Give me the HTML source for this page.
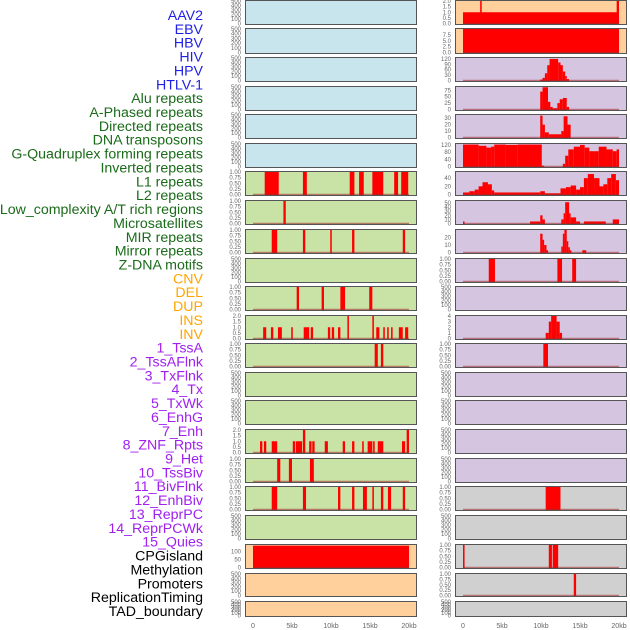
<!DOCTYPE html>
<html><head><meta charset="utf-8"><style>
body{margin:0;background:#fff;}
svg{display:block;font-family:"Liberation Sans",sans-serif;}
</style></head><body>
<svg id="chart" width="630" height="630" viewBox="0 0 630 630"></svg>
<script>
// ---- data ----
const labelNames=["AAV2","EBV","HBV","HIV","HPV","HTLV-1","Alu repeats","A-Phased repeats","Directed repeats","DNA transposons","G-Quadruplex forming repeats","Inverted repeats","L1 repeats","L2 repeats","Low_complexity A/T rich regions","Microsatellites","MIR repeats","Mirror repeats","Z-DNA motifs","CNV","DEL","DUP","INS","INV","1_TssA","2_TssAFlnk","3_TxFlnk","4_Tx","5_TxWk","6_EnhG","7_Enh","8_ZNF_Rpts","9_Het","10_TssBiv","11_BivFlnk","12_EnhBiv","13_ReprPC","14_ReprPCWk","15_Quies","CPGisland","Methylation","Promoters","ReplicationTiming","TAD_boundary"];
const labelGroups=[6,13,5,15,4];
const groupColors=["#1f1fe6","#1a6b1a","#ffa500","#a020f0","#000000"];
const xTickValues=[0,5,10,15,20];
const xTickLabels=["0","5kb","10kb","15kb","20kb"];
const rowTops=[0,28,57,86,114,143,171,200,229,258,286,315,343,372,400,429,458,486,515,544,573,601];
const rowBottoms=[25,54,82,111,139,168,196,225,254,283,311,340,368,397,425,454,483,511,540,569,597,617];
const E=[0,100,200,300,400,500], B=[0,0.25,0.5,0.75,1], T2=[0,0.5,1,1.5,2];
const BL="#c8e4ec",GR="#c9e2a6",OR="#ffd09c",LV="#d5c5e1",GY="#d0d0d0";
// left column: [bg, ymax, ticks, tickLabels, segments [startKb,endKb,value]]
const leftPanels=[
[BL,500,E,null,[]],[BL,500,E,null,[]],[BL,500,E,null,[]],[BL,500,E,null,[]],[BL,500,E,null,[]],[BL,500,E,null,[]],
[GR,1,B,"f2",[[1.5,3.3,1],[6.4,6.9,1],[12.4,13.0,1],[13.6,14.2,1],[15.3,16.7,1],[18.1,18.6,1],[19.0,19.9,1]]],
[GR,1,B,"f2",[[3.9,4.2,1]]],
[GR,1,B,"f2",[[2.4,3.1,1],[6.4,6.7,1],[9.9,10.1,1],[12.7,13.0,1],[19.2,19.5,1]]],
[GR,500,E,null,[]],
[GR,1,B,"f2",[[5.6,5.9,1],[8.8,9.1,1],[11.2,11.8,1],[14.9,15.3,1]]],
[GR,2,T2,"f1",[[1.3,1.7,1],[2.3,2.6,1],[3.2,3.7,1],[4.9,5.1,1],[6.5,7.2,1],[7.4,7.7,1],[9.6,9.9,1],[10.1,10.4,1],[10.9,11.2,1],[12.1,12.3,2],[15.3,15.5,2],[15.8,16.2,1],[16.7,16.9,1],[17.2,17.4,1],[17.7,17.9,1],[18.7,19.2,1],[19.5,19.9,1]]],
[GR,1,B,"f2",[[15.6,16.0,1],[16.4,16.7,1]]],
[GR,500,E,null,[]],[GR,500,E,null,[]],
[GR,2,T2,"f1",[[0.9,1.2,1],[1.4,1.7,1],[2.4,3.1,1],[5.1,5.4,1],[5.5,6.3,1],[6.4,6.7,2],[7.2,7.5,1],[7.6,7.9,1],[9.2,9.6,1],[11.5,11.8,1],[12.7,13.0,1],[14.0,14.2,1],[14.7,15.3,1],[15.4,15.6,1],[16.0,16.7,1],[19.1,19.5,1],[19.7,20.0,2]]],
[GR,1,B,"f2",[[3.1,3.5,1],[4.6,5.0,1],[7.3,7.8,1]]],
[GR,1,B,"f2",[[2.4,3.1,1],[6.4,6.8,1],[10.9,11.2,1],[12.7,13.0,1],[14.1,14.6,1],[15.3,15.5,1],[16.4,16.7,1],[17.3,17.7,1],[19.2,19.5,1]]],
[GR,500,E,null,[]],
[OR,140,[0,50,100],null,[[0,20,136]]],
[OR,500,E,null,[]],[OR,500,E,null,[]]
];
const rightPanels=[
[OR,2,T2,"f1",[[0,20,1],[2.2,2.4,2],[19.7,20,2]]],
[OR,10,[0,2.5,5,7.5],"f1",[[0,20,10]]],
[LV,125,[0,30,60,90,120],null,[[9.9,10.2,5],[10.2,10.5,15],[10.5,10.8,40],[10.8,11.1,85],[11.1,12.2,120],[12.2,12.5,100],[12.5,12.8,85],[12.8,13.1,50],[13.1,13.3,25],[13.3,13.6,8]]],
[LV,88,[0,25,50,75],null,[[9.9,10.2,70],[10.2,10.9,87],[10.9,11.2,30],[11.2,11.5,10],[11.5,12.1,5],[12.1,12.4,25],[12.4,12.8,40],[12.8,13.3,45],[13.3,13.6,10]]],
[LV,35,[0,10,20,30],null,[[9.9,10.2,34],[10.2,10.5,20],[10.5,11.0,8],[11.0,12.6,5],[12.6,12.9,10],[12.9,13.4,33],[13.4,13.8,20]]],
[LV,125,[0,40,80,120],null,[[0,2.0,122],[2.0,3.0,115],[3.0,3.6,105],[3.6,4.0,110],[4.0,5.5,122],[5.5,7.0,120],[7.0,10.1,122],[10.1,10.4,5],[12.8,13.1,15],[13.1,13.5,60],[13.5,14.2,95],[14.2,15.0,110],[15.0,15.6,120],[15.6,16.2,105],[16.2,16.8,85],[16.8,17.4,85],[17.4,18.4,110],[18.4,19.2,95],[19.2,19.7,85],[19.7,20,95]]],
[LV,55,[0,20,40],null,[[0,0.8,5],[0.8,1.5,8],[1.5,2.0,12],[2.0,2.5,20],[2.5,3.2,30],[3.2,3.7,25],[3.7,4.0,10],[4.0,9.9,5],[9.9,10.5,8],[10.5,12.5,3],[12.5,13.2,15],[13.2,13.8,18],[13.8,14.5,22],[14.5,15.0,12],[15.0,15.5,18],[15.5,16.0,40],[16.0,16.8,50],[16.8,17.5,40],[17.5,18.0,20],[18.0,18.5,25],[18.5,19.0,40],[19.0,19.6,50],[19.6,20,35]]],
[LV,55,[0,10,20,30,40,50],null,[[0,0.2,5],[8.6,9.9,5],[9.9,10.2,20],[10.2,10.5,10],[12.6,12.9,10],[12.9,13.1,25],[13.1,13.6,52],[13.6,13.8,25],[13.8,14.5,15],[14.5,15,5],[15.5,18.3,5],[19.2,20,10]]],
[LV,30,[0,10,20],null,[[9.9,10.2,25],[10.2,10.4,17],[10.4,10.7,10],[10.7,10.9,3],[12.6,12.8,8],[12.8,13.0,25],[13.0,13.3,30],[13.3,13.5,15],[13.5,13.7,7],[13.7,13.9,3],[15.3,15.8,3]]],
[LV,1,B,"f2",[[3.3,4.1,1],[12.1,12.7,1],[14.0,14.5,1]]],
[LV,500,E,null,[]],
[LV,4,[0,1,2,3,4],null,[[10.6,11.0,1],[11.0,11.3,3],[11.3,12.0,4],[12.0,12.4,3],[12.4,12.7,1]]],
[LV,1,B,"f2",[[10.3,10.9,1]]],
[LV,500,E,null,[]],[LV,500,E,null,[]],[LV,500,E,null,[]],[LV,500,E,null,[]],
[GY,1,B,"f2",[[10.6,12.5,1]]],
[GY,500,E,null,[]],
[GY,1,B,"f2",[[0,0.2,1],[11.0,11.4,1],[11.5,12.2,1]]],
[GY,1,B,"f2",[[14.2,14.5,1]]],
[GY,500,E,null,[]]
];
// ---- drawing ----
const svg=document.getElementById('chart');
const NS="http://www.w3.org/2000/svg";
function mk(tag,attrs,parent){const e=document.createElementNS(NS,tag);for(const k in attrs)e.setAttribute(k,attrs[k]);(parent||svg).appendChild(e);return e;}
let gi=0,cnt=0;
labelNames.forEach((n,i)=>{
  while(cnt>=labelGroups[gi]){gi++;cnt=0;}
  cnt++;
  const t=mk('text',{x:203,y:15+i*13.86+5,'text-anchor':'end','font-size':14.2,fill:groupColors[gi]});
  
  
  t.textContent=n;
});
function drawColumn(panels,x0,x1,zeroX,kbPx,col){
  const xs=kb=>zeroX+kb*kbPx;
  panels.forEach((p,i)=>{
    const [bg,ymax,ticks,fmt,segs]=p;
    const top=rowTops[i],bot=rowBottoms[i];
    const g=mk('g',{});
    
    
    mk('rect',{x:x0,y:top,width:x1-x0,height:bot-top,fill:bg},g);
    const y0=bot-1.5,y1=top+1;
    const ys=v=>y0-(v/ymax)*(y0-y1);
    segs.forEach(s=>{
      const r=mk('rect',{x:xs(s[0]),y:ys(s[2]),width:Math.max(xs(s[1])-xs(s[0]),1.5),height:y0-ys(s[2])+0.5,fill:'#ff0000'},g);
      
      
    });
    if(segs.length) mk('line',{x1:xs(0),x2:xs(20),y1:y0,y2:y0,stroke:'rgba(160,40,40,0.55)','stroke-width':1.5},g);
    mk('rect',{x:x0+0.5,y:top+0.5,width:x1-x0-1,height:bot-top-1,fill:'none',stroke:'#555','stroke-width':1},g);
    ticks.forEach(v=>{
      const t=mk('text',{x:x0-4,y:ys(v)+2,'text-anchor':'end','font-size':6,fill:'#666'},g);
      
      
      t.textContent=fmt==='f2'?v.toFixed(2):fmt==='f1'?v.toFixed(1):String(v);
    });
  });
  xTickValues.forEach((v,i)=>{
    const t=mk('text',{x:xs(v),y:628,'text-anchor':'middle','font-size':7,fill:'#666'});
    
    
    t.textContent=xTickLabels[i];
  });
}
drawColumn(leftPanels,245,417,253,7.8,'left');
drawColumn(rightPanels,455,627,463,7.8,'right');
</script>
</body></html>
